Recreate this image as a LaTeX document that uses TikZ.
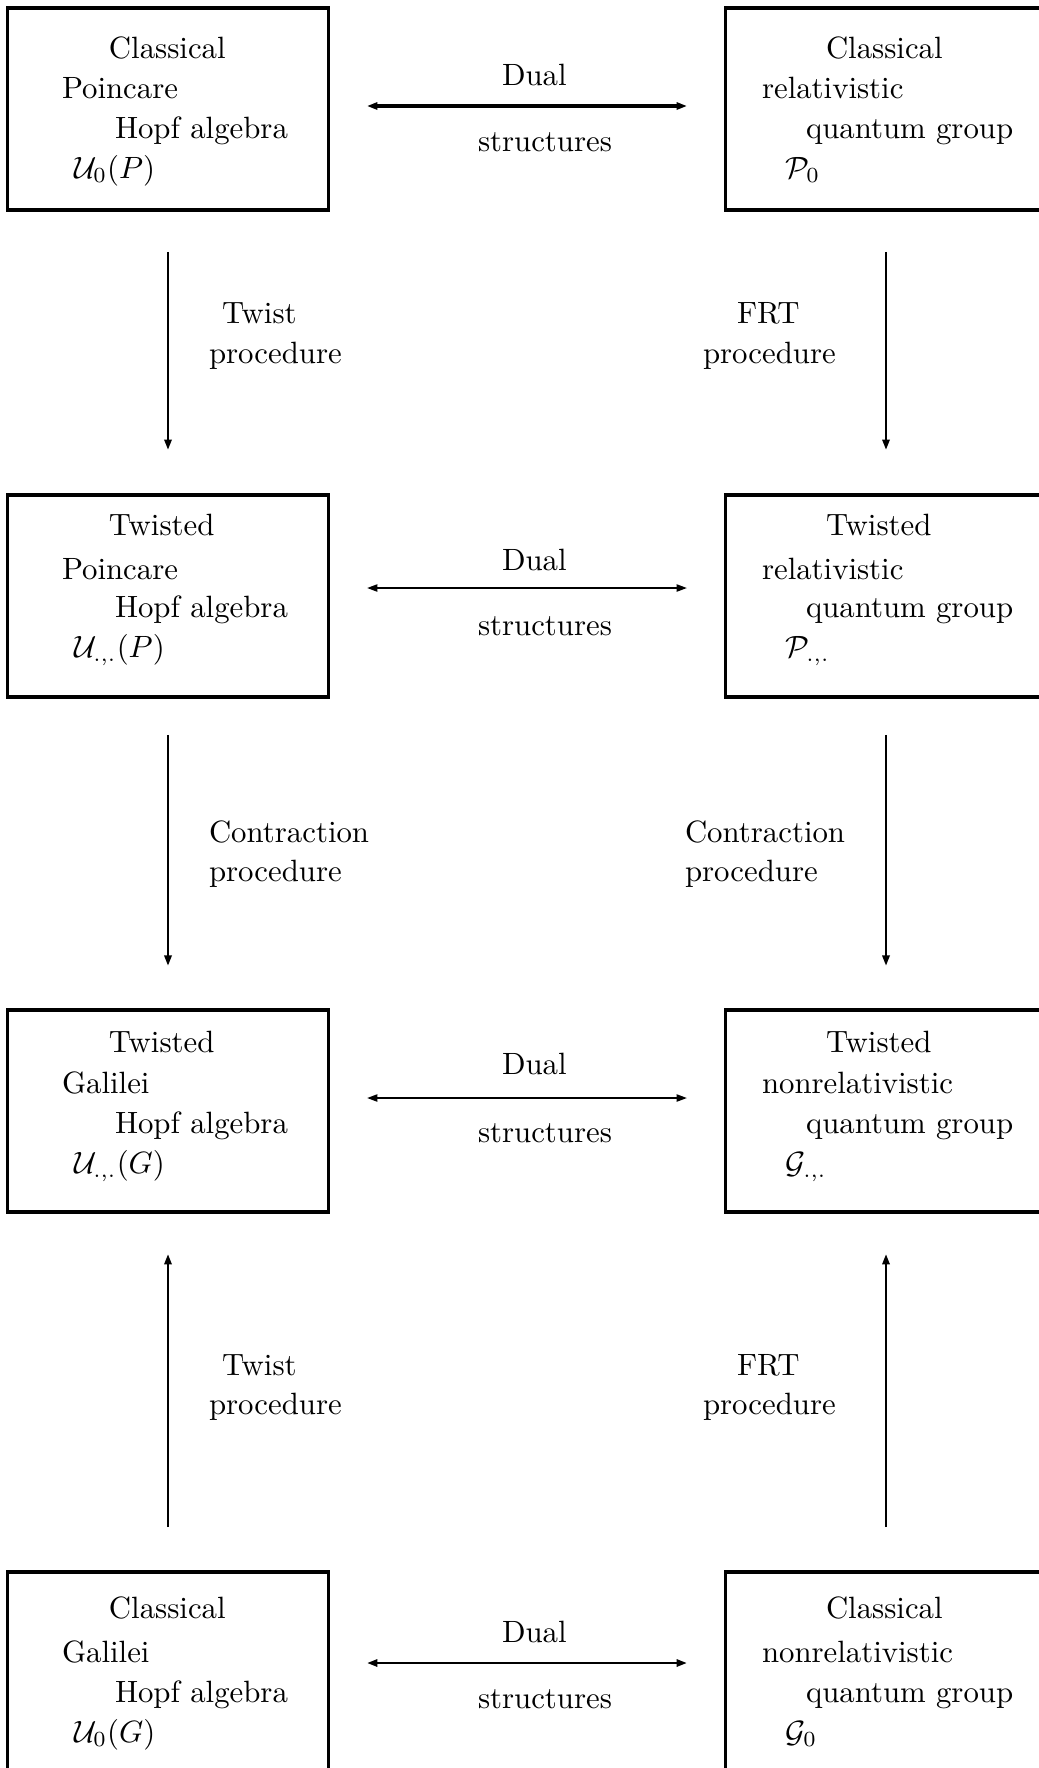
\documentclass[tikz,border=0pt]{standalone}
\usetikzlibrary{arrows.meta,calc}
\begin{document}
\begin{tikzpicture}[x=0.3247pt,y=-0.3247pt,
  box/.style={draw,line width=1.05pt,minimum width=104.2pt,minimum height=65.6pt,inner sep=0pt,outer sep=0pt},
  txt/.style={anchor=base west,inner sep=0pt,outer sep=0pt},
  tip/.tip={Triangle[length=3.4pt,width=2.3pt]},
  dualarr/.style={tip-tip,shorten <=12.5pt,shorten >=12.5pt},
  varr/.style={line width=0.9pt,-tip}]
\useasboundingbox (0,0) rectangle (1039,1768);
\clip (0,0) rectangle (1039,1768);
% boxes
\node[box] (L1) at (168,109) {};
\node[box] (R1) at (886,109) {};
\node[box] (L2) at (168,596) {};
\node[box] (R2) at (886,596) {};
\node[box] (L3) at (168,1111) {};
\node[box] (R3) at (886,1111) {};
\node[box] (L4) at (168,1673) {};
\node[box] (R4) at (886,1673) {};
% row 1 texts
\node[txt] (l1a) at (109,58) {Classical};
\node[txt] (l1b) at (62,98) {Poincare};
\node[txt] (l1c) at (115,138) {Hopf algebra};
\node[txt] (l1d) at (74,178) {$\mathcal{U}_0(P)$};
\node[txt] (r1a) at (826,58) {Classical};
\node[txt] (r1b) at (762,98) {relativistic};
\node[txt] (r1c) at (806,138) {quantum group};
\node[txt] (r1d) at (785,178) {$\mathcal{P}_0$};
% row 2 texts
\node[txt] (l2a) at (109,535) {Twisted};
\node[txt] (l2b) at (62,579) {Poincare};
\node[txt] (l2c) at (115,617) {Hopf algebra};
\node[txt] (l2d) at (74,657) {$\mathcal{U}_{.,.}(P)$};
\node[txt] (r2a) at (826,535) {Twisted};
\node[txt] (r2b) at (762,579) {relativistic};
\node[txt] (r2c) at (806,617) {quantum group};
\node[txt] (r2d) at (785,657) {$\mathcal{P}_{.,.}$};
% row 3 texts
\node[txt] (l3a) at (109,1052) {Twisted};
\node[txt] (l3b) at (62,1093) {Galilei};
\node[txt] (l3c) at (115,1133) {Hopf algebra};
\node[txt] (l3d) at (74,1173) {$\mathcal{U}_{.,.}(G)$};
\node[txt] (r3a) at (826,1052) {Twisted};
\node[txt] (r3b) at (762,1093) {nonrelativistic};
\node[txt] (r3c) at (806,1133) {quantum group};
\node[txt] (r3d) at (785,1173) {$\mathcal{G}_{.,.}$};
% row 4 texts
\node[txt] (l4a) at (109,1618) {Classical};
\node[txt] (l4b) at (62,1662) {Galilei};
\node[txt] (l4c) at (115,1702) {Hopf algebra};
\node[txt] (l4d) at (74,1742) {$\mathcal{U}_0(G)$};
\node[txt] (r4a) at (826,1618) {Classical};
\node[txt] (r4b) at (762,1662) {nonrelativistic};
\node[txt] (r4c) at (806,1702) {quantum group};
\node[txt] (r4d) at (785,1742) {$\mathcal{G}_0$};
% horizontal arrows
\coordinate (h1) at (527,106);
\coordinate (h2) at (527,588);
\coordinate (h3) at (527,1098);
\coordinate (h4) at (527,1663);
\draw[dualarr,line width=1pt] (L1.east |- h1) -- (R1.west |- h1);
\draw[dualarr,line width=0.65pt] (L2.east |- h2) -- (R2.west |- h2);
\draw[dualarr,line width=0.65pt] (L3.east |- h3) -- (R3.west |- h3);
\draw[dualarr,line width=0.85pt] (L4.east |- h4) -- (R4.west |- h4);
\node[txt] (du1) at (502,85) {Dual};
\node[txt] (st1) at (478,151) {structures};
\node[txt] (du2) at (502,570) {Dual};
\node[txt] (st2) at (478,635) {structures};
\node[txt] (du3) at (502,1074) {Dual};
\node[txt] (st3) at (478,1142) {structures};
\node[txt] (du4) at (502,1642) {Dual};
\node[txt] (st4) at (478,1708) {structures};
% vertical arrows
\draw[varr,shorten <=13.6pt,shorten >=14.6pt] (L1.south) -- (L2.north);
\draw[varr,shorten <=13.6pt,shorten >=14.6pt] (R1.south) -- (R2.north);
\draw[varr,shorten <=12.3pt,shorten >=14.3pt] (L2.south) -- (L3.north);
\draw[varr,shorten <=12.3pt,shorten >=14.3pt] (R2.south) -- (R3.north);
\draw[varr,shorten <=14.6pt,shorten >=13.6pt] (L4.north) -- (L3.south);
\draw[varr,shorten <=14.6pt,shorten >=13.6pt] (R4.north) -- (R3.south);
% vertical labels
\node[txt] (tw1) at (222,323) {Twist};
\node[txt] (tp1) at (209,363) {procedure};
\node[txt] (fr1) at (737,323) {FRT};
\node[txt] (fp1) at (703,363) {procedure};
\node[txt] (cl) at (209,842) {Contraction};
\node[txt] (clp) at (209,881) {procedure};
\node[txt] (cr) at (685,842) {Contraction};
\node[txt] (crp) at (685,881) {procedure};
\node[txt] (tw2) at (222,1375) {Twist};
\node[txt] (tp2) at (209,1414) {procedure};
\node[txt] (fr2) at (737,1375) {FRT};
\node[txt] (fp2) at (703,1414) {procedure};
\end{tikzpicture}
\end{document}
